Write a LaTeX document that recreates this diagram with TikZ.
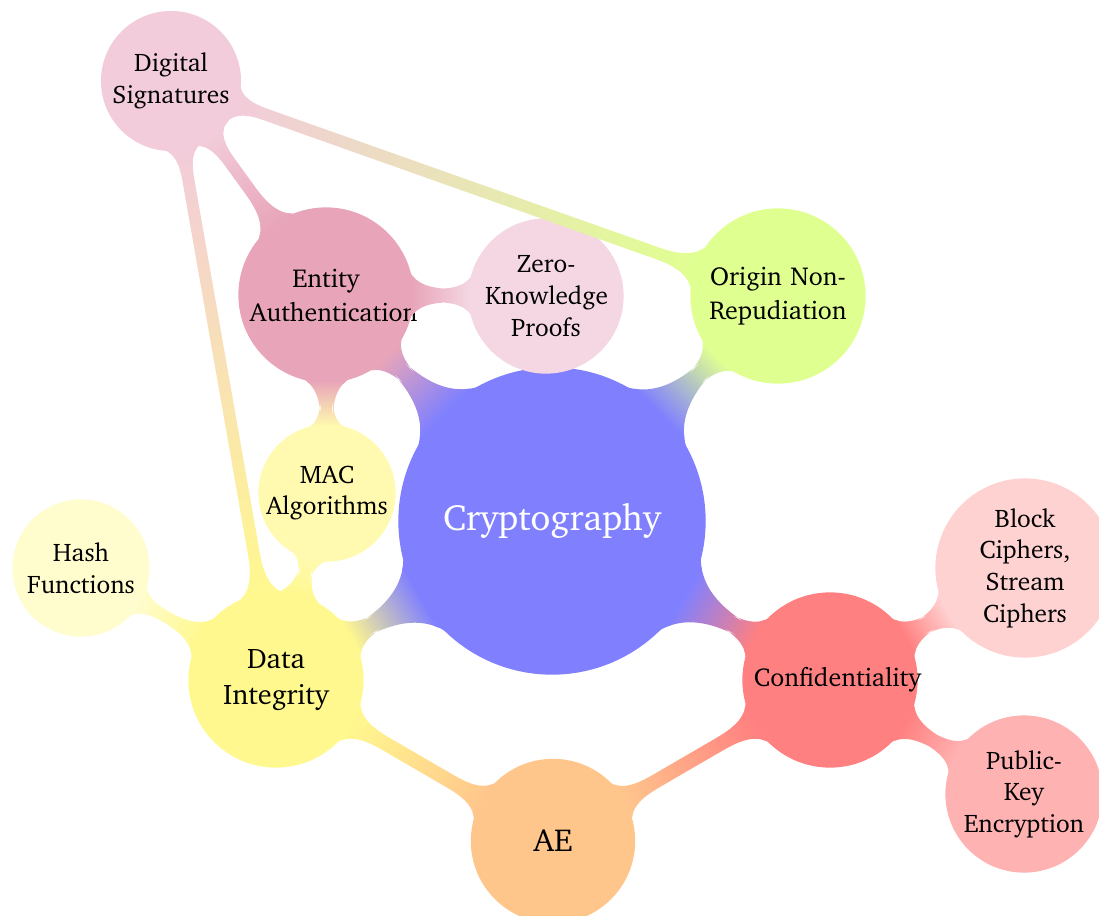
\documentclass[tikz,border=0pt]{standalone}
\usepackage[T1]{fontenc}
\usepackage{charter}
\usetikzlibrary{mindmap}
\definecolor{cCrypto}{RGB}{128,128,255}
\definecolor{cConf}{RGB}{255,128,128}
\definecolor{cBlock}{RGB}{255,210,210}
\definecolor{cPub}{RGB}{255,178,178}
\definecolor{cAE}{RGB}{255,198,140}
\definecolor{cData}{RGB}{255,248,142}
\definecolor{cHash}{RGB}{255,252,205}
\definecolor{cMAC}{RGB}{255,250,175}
\definecolor{cEnt}{RGB}{232,165,185}
\definecolor{cZK}{RGB}{244,215,226}
\definecolor{cOrig}{RGB}{224,255,145}
\definecolor{cDig}{RGB}{242,204,218}
\begin{document}
\begin{tikzpicture}[x=0.01315789cm,y=-0.01315789cm, mindmap,
  cnode/.style={concept, inner sep=0pt, align=center, text=black},
  rootc/.style={cnode, minimum size=4cm, text width=3.5cm, font=\fontsize{13.7}{16}\selectfont, text=white},
  lone/.style={cnode, minimum size=2.263cm, text width=2cm, font=\fontsize{9.7}{12.7}\selectfont},
  ltwo/.style={cnode, minimum size=1.763cm, text width=1.6cm, font=\fontsize{9.5}{11.8}\selectfont},
  cbar/.style={line width=4.8pt}
]
\useasboundingbox (0,0) rectangle (1099,915);
\node[rootc, concept color=cCrypto] (crypto) at (552,521) {Cryptography};
\node[lone, concept color=cConf] (conf) at (830,680) {Confidentiality};
\node[ltwo, concept color=cBlock, minimum size=2.316cm] (block) at (1025,568) {Block\\Ciphers,\\Stream\\Ciphers};
\node[ltwo, concept color=cPub, minimum size=2.026cm] (pub) at (1024,794) {Public-\\Key\\Encryption};
\node[lone, concept color=cAE, minimum size=2.12cm, font=\fontsize{11.9}{14}\selectfont] (ae) at (553,841) {AE};
\node[lone, concept color=cData, font=\fontsize{10.6}{13.5}\selectfont] (data) at (276,680) {Data\\Integrity};
\node[ltwo, concept color=cHash] (hash) at (81,568) {Hash\\Functions};
\node[ltwo, concept color=cMAC] (mac) at (327,493) {MAC\\Algorithms};
\node[lone, concept color=cEnt] (ent) at (326,295) {Entity\\Authentication};
\node[ltwo, concept color=cZK, minimum size=2cm] (zk) at (546,296) {Zero-\\Knowledge\\Proofs};
\node[lone, concept color=cOrig] (orig) at (778,296) {Origin Non-\\Repudiation};
\node[ltwo, concept color=cDig, minimum size=1.8cm] (dig) at (171,81) {Digital\\Signatures};

\path[cbar] (crypto) to[circle connection bar switch color=from (cCrypto) to (cConf)] (conf);
\path[cbar] (crypto) to[circle connection bar switch color=from (cCrypto) to (cData)] (data);
\path[cbar] (crypto) to[circle connection bar switch color=from (cCrypto) to (cEnt)] (ent);
\path[cbar] (crypto) to[circle connection bar switch color=from (cCrypto) to (cOrig)] (orig);
\path[cbar] (conf) to[circle connection bar switch color=from (cConf) to (cBlock)] (block);
\path[cbar] (conf) to[circle connection bar switch color=from (cConf) to (cPub)] (pub);
\path[cbar] (ae) to[circle connection bar switch color=from (cAE) to (cConf)] (conf);
\path[cbar] (data) to[circle connection bar switch color=from (cData) to (cAE)] (ae);
\path[cbar] (data) to[circle connection bar switch color=from (cData) to (cHash)] (hash);
\path[cbar] (data) to[circle connection bar switch color=from (cData) to (cMAC)] (mac);
\path[cbar] (ent) to[circle connection bar switch color=from (cEnt) to (cMAC)] (mac);
\path[cbar] (ent) to[circle connection bar switch color=from (cEnt) to (cZK)] (zk);
\path[cbar] (dig) to[circle connection bar switch color=from (cDig) to (cEnt)] (ent);
\path[cbar] (dig) to[circle connection bar switch color=from (cDig) to (cData)] (data);
\path[cbar] (dig) to[circle connection bar switch color=from (cDig) to (cOrig)] (orig);
\end{tikzpicture}
\end{document}
